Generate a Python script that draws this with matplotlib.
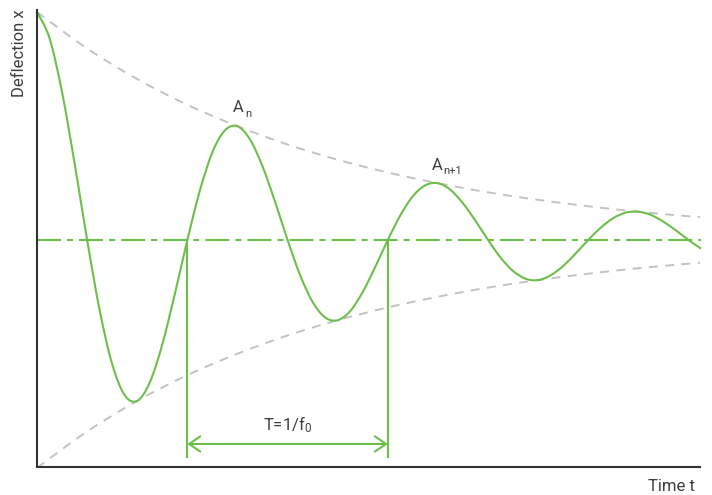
import matplotlib.pyplot as plt
from matplotlib.path import Path
from matplotlib.patches import PathPatch

# damped oscillation (t: period = 2, x: first amplitude = 1)
t = [i * 0.125 for i in range(54)]
deflection = [1.000, 0.885, 0.648, 0.336, 0.000, -0.308, -0.545, -0.681,
              -0.706, -0.625, -0.458, -0.237, 0.000, 0.217, 0.385, 0.481,
              0.499, 0.441, 0.323, 0.168, 0.000, -0.154, -0.272, -0.340,
              -0.352, -0.312, -0.228, -0.118, 0.000, 0.108, 0.192, 0.240,
              0.249, 0.220, 0.161, 0.084, 0.000, -0.077, -0.136, -0.170,
              -0.176, -0.155, -0.114, -0.059, 0.000, 0.054, 0.096, 0.120,
              0.124, 0.110, 0.080, 0.042, 0.000, -0.038]

env_t = [0, 0.5, 1.0, 1.5, 2.0, 2.5, 3.0, 3.5, 4.0, 4.5, 5.0, 5.5, 6.0, 6.5, 6.62]
envelope = [1.000, 0.840, 0.706, 0.593, 0.499, 0.419, 0.352, 0.296,
            0.249, 0.209, 0.176, 0.148, 0.124, 0.104, 0.100]

period_start = 1.5
period_end = 3.5
peak_subs = ['n', 'n+1']
peak_t = [1.955, 3.94]
peak_x = [0.563, 0.309]

green = '#6cbf4a'
grey = '#c2c2c2'
text_col = '#3d3d3d'


def smooth_path(xs, ys):
    # catmull-rom through the read points, drawn as cubic beziers
    verts = [(xs[0], ys[0])]
    codes = [Path.MOVETO]
    n = len(xs)
    for i in range(n - 1):
        x0, y0 = (xs[i - 1], ys[i - 1]) if i > 0 else (xs[i], ys[i])
        x1, y1 = xs[i], ys[i]
        x2, y2 = xs[i + 1], ys[i + 1]
        x3, y3 = (xs[i + 2], ys[i + 2]) if i + 2 < n else (x2, y2)
        verts += [(x1 + (x2 - x0) / 6, y1 + (y2 - y0) / 6),
                  (x2 - (x3 - x1) / 6, y2 - (y3 - y1) / 6),
                  (x2, y2)]
        codes += [Path.CURVE4] * 3
    return Path(verts, codes)


plt.rcParams['font.family'] = 'Roboto'
plt.rcParams['font.size'] = 12
plt.rcParams['mathtext.fontset'] = 'custom'
plt.rcParams['mathtext.rm'] = 'Roboto'
plt.rcParams['mathtext.default'] = 'regular'

fig = plt.figure(figsize=(7.12, 4.95), dpi=100)
ax = fig.add_axes([0.052, 0.0566, 0.931, 0.9232])

ax.set_xlim(0, 6.614)
ax.set_ylim(-0.996, 1.009)

# envelopes
env_style = dict(fill=False, edgecolor=grey, linewidth=1.4, linestyle=(0, (4.6, 3.8)))
ax.add_patch(PathPatch(smooth_path(env_t, envelope), **env_style))
ax.add_patch(PathPatch(smooth_path(env_t, [-v for v in envelope]), **env_style))

# rest position
ax.plot([0, 6.63], [0, 0], color=green, linewidth=1.5,
        linestyle=(0, (11.5, 2.9, 2.9, 2.9)), clip_on=False)

# oscillation
ax.add_patch(PathPatch(smooth_path(t, deflection), fill=False, edgecolor=green,
                       linewidth=1.5, clip_on=False))

# period marker
for tp in [period_start, period_end]:
    ax.plot([tp, tp], [0, -0.952], color=green, linewidth=1.5)
ax.annotate('', xy=(period_end, -0.895), xytext=(period_start, -0.895),
            arrowprops=dict(arrowstyle='<->,head_length=0.8,head_width=0.55',
                            color=green, linewidth=1.5, shrinkA=0, shrinkB=0,
                            mutation_scale=10))
ax.text((period_start + period_end) / 2, -0.811, 'T=1/f$_0$', ha='center',
        va='center', color=text_col)

for sub, px, py in zip(peak_subs, peak_t, peak_x):
    ax.text(px, py, 'A', ha='left', va='baseline', color=text_col)
    ax.annotate(sub, xy=(px, py), xytext=(8.5, -3.5), textcoords='offset points',
                ha='left', va='baseline', fontsize=8, color=text_col)

for side in ['top', 'right']:
    ax.spines[side].set_visible(False)
for side in ['left', 'bottom']:
    ax.spines[side].set_color('#333333')
    ax.spines[side].set_linewidth(1.5)
ax.set_xticks([])
ax.set_yticks([])

fig.text(0.028, 0.893, 'Deflection x', rotation=90, ha='center', va='center',
         color=text_col)
fig.text(0.976, 0.018, 'Time t', ha='right', va='center', color=text_col)

fig.savefig('out.png', dpi=100)
